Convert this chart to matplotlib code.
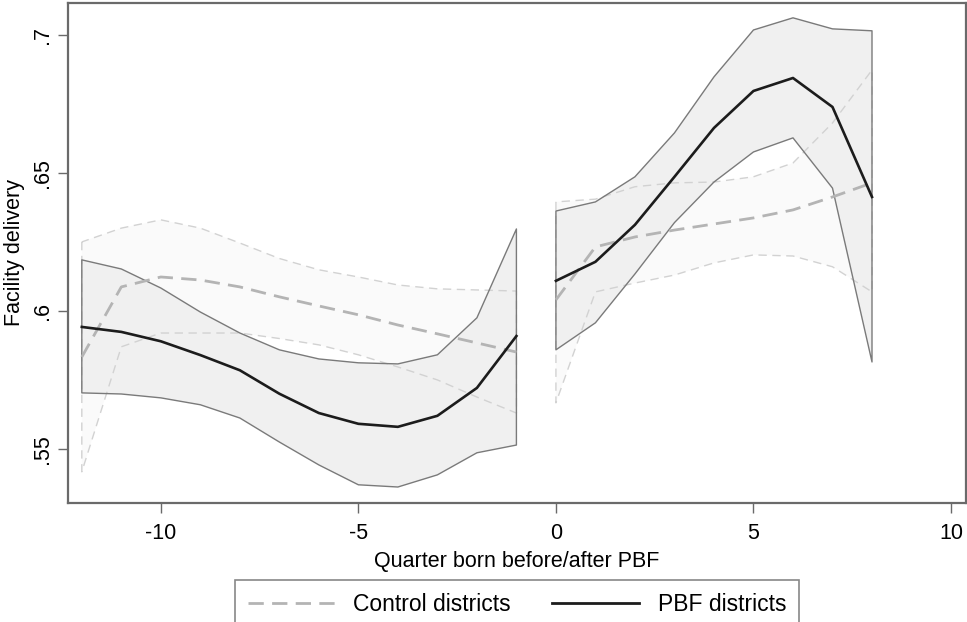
import numpy as np
import matplotlib
matplotlib.use("Agg")
import matplotlib.pyplot as plt

plt.rcParams['font.family'] = ['Liberation Sans', 'DejaVu Sans']

# quarters relative to PBF start, split at the rollout
q_pre = [-12, -11, -10, -9, -8, -7, -6, -5, -4, -3, -2, -1]
q_post = [0, 1, 2, 3, 4, 5, 6, 7, 8]

# PBF districts: fitted mean and 95% band
pbf_pre = [0.5942, 0.5924, 0.5890, 0.5840, 0.5785, 0.5700, 0.5630, 0.5591, 0.5580, 0.5620, 0.5721, 0.5909]
pbf_pre_hi = [0.6185, 0.6152, 0.6083, 0.5996, 0.5920, 0.5859, 0.5826, 0.5812, 0.5808, 0.5841, 0.5975, 0.6297]
pbf_pre_lo = [0.5703, 0.5699, 0.5685, 0.5660, 0.5612, 0.5525, 0.5442, 0.5370, 0.5362, 0.5406, 0.5486, 0.5514]
pbf_post = [0.6109, 0.6178, 0.6312, 0.6486, 0.6663, 0.6797, 0.6844, 0.6739, 0.6413]
pbf_post_hi = [0.6362, 0.6395, 0.6486, 0.6645, 0.6848, 0.7018, 0.7062, 0.7022, 0.7015]
pbf_post_lo = [0.5859, 0.5957, 0.6134, 0.6320, 0.6467, 0.6576, 0.6627, 0.6445, 0.5815]

# control districts: fitted mean and 95% band
ctl_pre = [0.5833, 0.6087, 0.6123, 0.6112, 0.6087, 0.6051, 0.6018, 0.5986, 0.5949, 0.5917, 0.5884, 0.5851]
ctl_pre_hi = [0.6250, 0.6300, 0.6330, 0.6300, 0.6246, 0.6190, 0.6149, 0.6123, 0.6094, 0.6080, 0.6076, 0.6072]
ctl_pre_lo = [0.5417, 0.5870, 0.5920, 0.5920, 0.5920, 0.5900, 0.5877, 0.5841, 0.5797, 0.5750, 0.5688, 0.5630]
ctl_post = [0.6040, 0.6232, 0.6268, 0.6293, 0.6315, 0.6337, 0.6366, 0.6413, 0.6464]
ctl_post_hi = [0.6395, 0.6405, 0.6450, 0.6464, 0.6467, 0.6486, 0.6536, 0.6681, 0.6873]
ctl_post_lo = [0.5667, 0.6069, 0.6101, 0.6130, 0.6174, 0.6203, 0.6199, 0.6160, 0.6069]

xticks = [-10, -5, 0, 5, 10]
yticks = [0.55, 0.6, 0.65, 0.7]
yticklabels = ['.55', '.6', '.65', '.7']

FS = 15.5
LEG_FS = 16.5

fig = plt.figure(figsize=(9.67, 6.22), dpi=100)
ax = fig.add_axes([0.0703, 0.1913, 0.9287, 0.8040])

segments = [
    (q_pre, pbf_pre, pbf_pre_lo, pbf_pre_hi, ctl_pre, ctl_pre_lo, ctl_pre_hi),
    (q_post, pbf_post, pbf_post_lo, pbf_post_hi, ctl_post, ctl_post_lo, ctl_post_hi),
]

# fills first, outlines and fitted lines on top
for q, pm, plo, phi, cm, clo, chi in segments:
    ax.fill_between(q, clo, chi, facecolor='#fafafa', edgecolor='none', zorder=1)
for q, pm, plo, phi, cm, clo, chi in segments:
    ax.fill_between(q, plo, phi, facecolor='#f0f0f0', edgecolor='none', zorder=2)
for q, pm, plo, phi, cm, clo, chi in segments:
    ax.fill_between(q, clo, chi, facecolor='none', edgecolor='#d2d2d2',
                    linestyle=(0, (6, 4)), linewidth=1.0, zorder=3)
    ax.fill_between(q, plo, phi, facecolor='none', edgecolor='#7a7a7a',
                    linewidth=1.0, zorder=3)
for i, (q, pm, plo, phi, cm, clo, chi) in enumerate(segments):
    ax.plot(q, cm, color='#b4b4b4', linewidth=2.0, linestyle=(0, (5.5, 3)),
            zorder=4, label='Control districts' if i == 0 else None)
    ax.plot(q, pm, color='#1c1c1c', linewidth=1.9, zorder=5,
            label='PBF districts' if i == 0 else None)

ax.set_xlim(-12.35, 10.38)
ax.set_ylim(0.5304, 0.7116)
ax.set_xticks(xticks)
ax.set_xticklabels([str(t) for t in xticks])
ax.set_yticks(yticks)
ax.set_yticklabels(yticklabels, rotation=90, va='center')

for s in ax.spines.values():
    s.set_color('#6a6a6a')
    s.set_linewidth(1.6)
ax.tick_params(direction='out', length=7.5, width=1.0, color='#6a6a6a',
               labelsize=FS, pad=7)
ax.tick_params(axis='y', pad=3)

ax.set_xlabel('Quarter born before/after PBF', fontsize=FS, labelpad=5)
ax.set_ylabel('Facility delivery', fontsize=FS, labelpad=5)

leg = fig.legend(loc='upper center', bbox_to_anchor=(0.5346, 0.0675), ncol=2,
                 fontsize=LEG_FS, frameon=True, fancybox=False, edgecolor='#6a6a6a',
                 handlelength=3.8, handletextpad=0.8, columnspacing=1.8,
                 borderpad=0.55, borderaxespad=0)
leg.get_frame().set_linewidth(1.2)
for h in leg.legend_handles:
    h.set_linewidth(2.0)

fig.savefig('out.png', dpi=100)
